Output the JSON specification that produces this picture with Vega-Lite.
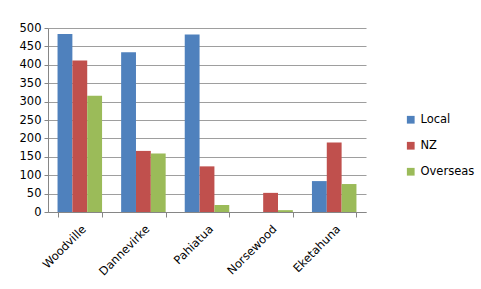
{
  "$schema": "https://vega.github.io/schema/vega-lite/v6.json",
  "autosize": {"type": "none"},
  "width": 318,
  "height": 184,
  "padding": {"left": 48, "top": 28, "right": 115, "bottom": 77},
  "background": "white",
  "data": {
    "values": [
      {"town": "Woodville", "source": "Local", "value": 484},
      {"town": "Woodville", "source": "NZ", "value": 412},
      {"town": "Woodville", "source": "Overseas", "value": 316},
      {"town": "Dannevirke", "source": "Local", "value": 434},
      {"town": "Dannevirke", "source": "NZ", "value": 166},
      {"town": "Dannevirke", "source": "Overseas", "value": 159},
      {"town": "Pahiatua", "source": "Local", "value": 482},
      {"town": "Pahiatua", "source": "NZ", "value": 124},
      {"town": "Pahiatua", "source": "Overseas", "value": 19},
      {"town": "Norsewood", "source": "Local", "value": 0},
      {"town": "Norsewood", "source": "NZ", "value": 52},
      {"town": "Norsewood", "source": "Overseas", "value": 5},
      {"town": "Eketahuna", "source": "Local", "value": 84},
      {"town": "Eketahuna", "source": "NZ", "value": 189},
      {"town": "Eketahuna", "source": "Overseas", "value": 76}
    ]
  },
  "mark": {"type": "bar"},
  "encoding": {
    "x": {
      "field": "town", "type": "nominal", "sort": null, "title": null,
      "scale": {"paddingInner": 0.3, "paddingOuter": 0.15},
      "axis": {"labelAngle": -45, "labelFont": "DejaVu Sans", "labelFontSize": 11.5, "labelColor": "#000", "domainColor": "#868686", "tickColor": "#868686", "tickBand": "extent", "tickSize": 5, "labelPadding": 6}
    },
    "xOffset": {"field": "source", "type": "nominal"},
    "y": {
      "field": "value", "type": "quantitative", "title": null,
      "scale": {"domain": [0, 500], "nice": false},
      "axis": {"values": [0,50,100,150,200,250,300,350,400,450,500], "labelFont": "DejaVu Sans", "labelFontSize": 11.5, "labelColor": "#000", "domainColor": "#868686", "tickColor": "#868686", "tickSize": 4, "gridColor": "#868686", "gridOpacity": 0.8, "labelPadding": 3}
    },
    "color": {
      "field": "source", "type": "nominal", "title": null,
      "scale": {"domain": ["Local", "NZ", "Overseas"], "range": ["#4F81BD", "#C0504D", "#9BBB59"]},
      "legend": {"orient": "none", "legendX": 357, "legendY": 86, "symbolType": "square", "symbolSize": 60, "symbolStrokeWidth": 0, "labelFont": "DejaVu Sans", "labelFontSize": 11.5, "labelColor": "#000", "rowPadding": 13, "symbolOffset": 0}
    }
  },
  "config": {"view": {"stroke": null}}
}
